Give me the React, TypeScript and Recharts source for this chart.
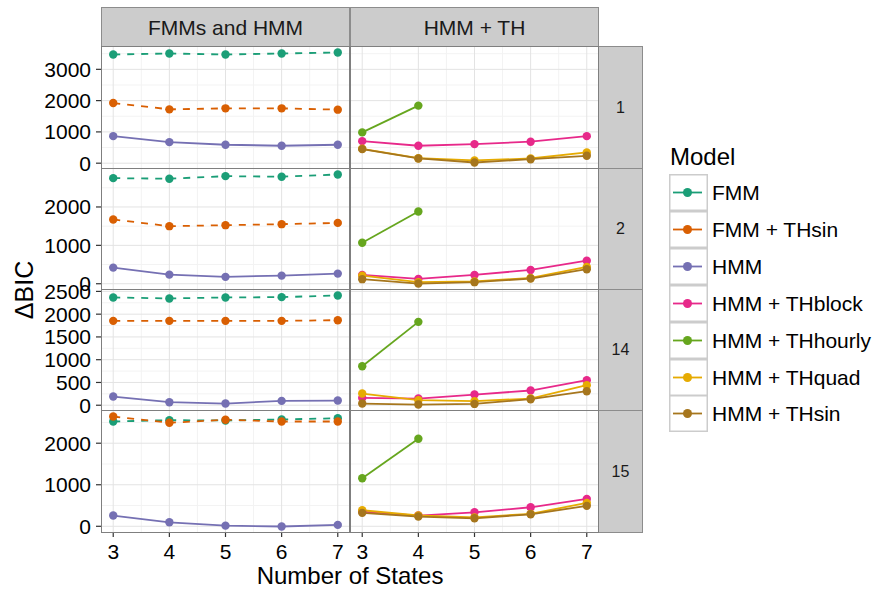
import React from 'react';
import { LineChart, Line, XAxis, YAxis, CartesianGrid } from 'recharts';

// number of states on the x axis
const states = [3, 4, 5, 6, 7];

// facet labels
const columnLabels = ['FMMs and HMM', 'HMM + TH'];
const rowLabels = ['1', '2', '14', '15'];

// y tick labels for each facet row
const yTicks = [
  [0, 1000, 2000, 3000],
  [0, 1000, 2000],
  [0, 500, 1000, 1500, 2000, 2500],
  [0, 1000, 2000],
];

// ΔBIC per facet row (1, 2, 14, 15), one value per number of states
const fmm = [
  [3474, 3506, 3474, 3506, 3538],
  [2751, 2736, 2803, 2788, 2847],
  [2367, 2345, 2367, 2374, 2411],
  [2523, 2554, 2547, 2571, 2602],
];
const fmmThsin = [
  [1923, 1721, 1753, 1753, 1711],
  [1674, 1500, 1526, 1552, 1585],
  [1853, 1853, 1853, 1853, 1868],
  [2643, 2491, 2564, 2523, 2523],
];
const hmm = [
  [865, 673, 590, 558, 590],
  [420, 238, 179, 212, 264],
  [191, 66, 37, 95, 103],
  [258, 96, 16, -5, 34],
];
const hmmThblock = [
  [705, 558, 609, 686, 865],
  [230, 127, 230, 360, 601],
  [161, 147, 235, 323, 549],
  [354, 258, 337, 458, 660],
];
const hmmThhourly = [
  [984, 1840, null, null, null],
  [1067, 1881, null, null, null],
  [857, 1831, null, null, null],
  [1157, 2106, null, null, null],
];
const hmmThquad = [
  [460, 160, 87, 150, 343],
  [212, 40, 60, 150, 438],
  [257, 110, 88, 147, 440],
  [386, 260, 215, 300, 564],
];
const hmmThsin = [
  [449, 151, 22, 128, 237],
  [119, 5, 41, 135, 378],
  [37, 15, 29, 132, 308],
  [323, 234, 193, 289, 492],
];

type Series = { name: string; values: (number | null)[][]; color: string; dashed: boolean; col: number };

const series: Series[] = [
  { name: 'FMM', values: fmm, color: '#1B9E77', dashed: true, col: 0 },
  { name: 'FMM + THsin', values: fmmThsin, color: '#D95F02', dashed: true, col: 0 },
  { name: 'HMM', values: hmm, color: '#7570B3', dashed: false, col: 0 },
  { name: 'HMM + THblock', values: hmmThblock, color: '#E7298A', dashed: false, col: 1 },
  { name: 'HMM + THhourly', values: hmmThhourly, color: '#66A61E', dashed: false, col: 1 },
  { name: 'HMM + THquad', values: hmmThquad, color: '#E6AB02', dashed: false, col: 1 },
  { name: 'HMM + THsin', values: hmmThsin, color: '#A6761D', dashed: false, col: 1 },
];

const FONT = '"Liberation Sans", Arial, Helvetica, sans-serif';
const panelX = [102, 351];
const panelW = 247;
const rowTop = [47, 169, 290, 411];
const rowH = [121, 120, 120, 121];
const yAxisW = 102;
const xAxisH = 36;

// free y scale per row, ggplot style 5% expansion
function rowDomain(r: number): [number, number] {
  const vals: number[] = [];
  series.forEach((s) => s.values[r].forEach((v) => v !== null && vals.push(v)));
  const lo = Math.min(...vals);
  const hi = Math.max(...vals);
  const pad = (hi - lo) * 0.05;
  return [lo - pad, hi + pad];
}

function minorOf(ticks: number[], dom: [number, number]) {
  const step = ticks[1] - ticks[0];
  const out: number[] = [];
  for (let v = ticks[0] - step / 2; v <= dom[1]; v += step) {
    if (v >= dom[0]) out.push(v);
  }
  return out;
}

const xMajor = states;
const xMinor = [3.5, 4.5, 5.5, 6.5];

function Panel({ row, col }: { row: number; col: number }) {
  const dom = rowDomain(row);
  const rows = states.map((x, i) => {
    const o: { [k: string]: number | null } = { x };
    series.forEach((s) => {
      o[s.name] = s.values[row][i];
    });
    return o;
  });
  const showY = col === 0;
  const showX = row === 3;
  const width = panelW + (showY ? yAxisW : 0);
  const height = rowH[row] + (showX ? xAxisH : 0);
  const left = panelX[col] - (showY ? yAxisW : 0);
  return (
    <div style={{ position: 'absolute', left, top: rowTop[row], width, height, zIndex: showY ? 2 : 1 }}>
      <LineChart width={width} height={height} data={rows} margin={{ top: 0, right: 0, bottom: 0, left: 0 }}>
        <CartesianGrid
          stroke="#F3F3F3"
          strokeWidth={1}
          horizontalValues={minorOf(yTicks[row], dom)}
          verticalValues={xMinor}
          fill="#FFFFFF"
        />
        <CartesianGrid stroke="#E3E3E3" strokeWidth={1} horizontalValues={yTicks[row]} verticalValues={xMajor} />
        <XAxis
          dataKey="x"
          type="number"
          domain={[2.8, 7.2]}
          ticks={states}
          interval={0}
          allowDataOverflow
          hide={!showX}
          height={xAxisH}
          axisLine={false}
          tickSize={5}
          tickMargin={7}
          tickLine={{ stroke: '#333333', strokeWidth: 1.2 }}
          tick={{ fill: '#000000', fontSize: 21, fontFamily: FONT }}
        />
        <YAxis
          type="number"
          domain={dom}
          ticks={yTicks[row]}
          interval={0}
          allowDataOverflow
          hide={!showY}
          width={yAxisW}
          axisLine={false}
          tickSize={6}
          tickMargin={5}
          tickLine={{ stroke: '#333333', strokeWidth: 1.2 }}
          tick={{ fill: '#000000', fontSize: 21, fontFamily: FONT }}
        />
        {series
          .filter((s) => s.col === col)
          .map((s) => (
            <Line
              key={s.name}
              dataKey={s.name}
              type="linear"
              stroke={s.color}
              strokeWidth={1.8}
              strokeDasharray={s.dashed ? '7 7' : undefined}
              dot={{ r: 4.2, fill: s.color, stroke: s.color, strokeWidth: 0 }}
              activeDot={false}
              isAnimationActive={false}
              connectNulls={false}
            />
          ))}
      </LineChart>
      <div
        style={{
          position: 'absolute',
          left: showY ? yAxisW - 1 : -1,
          top: -1,
          width: panelW + 2,
          height: rowH[row] + 2,
          border: '1.5px solid #7F7F7F',
          boxSizing: 'border-box',
          pointerEvents: 'none',
        }}
      />
    </div>
  );
}

const stripStyle: React.CSSProperties = {
  position: 'absolute',
  background: '#CCCCCC',
  border: '1.2px solid #8C8C8C',
  boxSizing: 'border-box',
  display: 'flex',
  alignItems: 'center',
  justifyContent: 'center',
  color: '#1A1A1A',
  fontFamily: FONT,
  lineHeight: 1,
};

export default function App() {
  return (
    <div
      style={{
        position: 'absolute',
        left: 0,
        top: 0,
        width: 876,
        height: 597,
        background: '#FFFFFF',
        fontFamily: FONT,
        overflow: 'hidden',
      }}
    >
      <style>{'.recharts-surface, .recharts-wrapper { overflow: visible !important; }'}</style>
      {columnLabels.map((lab, c) => (
        <div key={lab} style={{ ...stripStyle, left: panelX[c] - 1, top: 7, width: panelW + 2, height: 41, fontSize: 21 }}>
          {lab}
        </div>
      ))}
      {rowLabels.map((lab, r) => (
        <div
          key={lab}
          style={{ ...stripStyle, left: 598, top: rowTop[r] - 1, width: 45, height: rowH[r] + 2, fontSize: 16 }}
        >
          {lab}
        </div>
      ))}
      {rowTop.map((_, r) =>
        [0, 1].map((c) => <Panel key={`${r}-${c}`} row={r} col={c} />)
      )}
      <div
        style={{
          position: 'absolute',
          left: 24 - 40,
          top: 290 - 12,
          width: 80,
          height: 24,
          fontSize: 25,
          lineHeight: 1,
          textAlign: 'center',
          transform: 'rotate(-90deg)',
          color: '#000',
        }}
      >
        ΔBIC
      </div>
      <div
        style={{
          position: 'absolute',
          left: 350 - 150,
          top: 564,
          width: 300,
          fontSize: 24,
          lineHeight: 1,
          textAlign: 'center',
          color: '#000',
        }}
      >
        Number of States
      </div>
      <div style={{ position: 'absolute', left: 670, top: 145, fontSize: 24, lineHeight: 1, color: '#000' }}>Model</div>
      {series.map((s, i) => (
        <div key={s.name} style={{ position: 'absolute', left: 669, top: 174 + i * 36.9, height: 37, display: 'flex', alignItems: 'center' }}>
          <svg width={39} height={37} style={{ display: 'block' }}>
            <rect x={0.75} y={0.75} width={37.5} height={35.5} fill="#FFFFFF" stroke="#CCCCCC" strokeWidth={1.5} />
            <line x1={4} y1={18.5} x2={33} y2={18.5} stroke={s.color} strokeWidth={1.8} />
            <circle cx={18.5} cy={18.5} r={4.5} fill={s.color} />
          </svg>
          <span style={{ marginLeft: 4, fontSize: 21, lineHeight: 1, color: '#000', whiteSpace: 'nowrap' }}>{s.name}</span>
        </div>
      ))}
    </div>
  );
}
